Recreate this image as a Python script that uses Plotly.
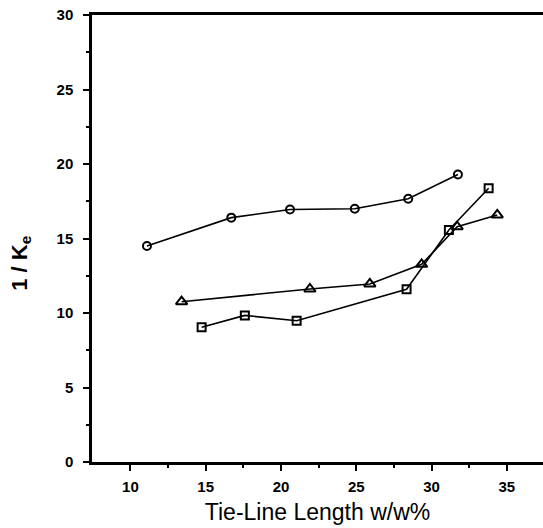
import plotly.graph_objects as go

circle_x = [11.1, 16.7, 20.6, 24.9, 28.45, 31.75]
circle_y = [14.5, 16.4, 16.95, 17.0, 17.67, 19.3]

square_x = [14.73, 17.6, 21.04, 28.34, 31.15, 33.79]
square_y = [9.04, 9.84, 9.48, 11.59, 15.57, 18.37]

triangle_x = [13.4, 21.92, 25.9, 29.34, 31.7, 34.36]
triangle_y = [10.76, 11.61, 11.95, 13.27, 15.79, 16.58]

x_ticks = [10, 15, 20, 25, 30, 35]
y_ticks = [0, 5, 10, 15, 20, 25, 30]

FAM = "Liberation Sans, Arial, sans-serif"

fig = go.Figure()
line = dict(color="black", width=1.6)
fig.add_trace(go.Scatter(x=circle_x, y=circle_y, mode="lines+markers", line=line,
                         marker=dict(symbol="circle-open", size=8, color="black", line=dict(width=2))))
fig.add_trace(go.Scatter(x=square_x, y=square_y, mode="lines+markers", line=line,
                         marker=dict(symbol="square-open", size=8, color="black", line=dict(width=2))))
fig.add_trace(go.Scatter(x=triangle_x, y=triangle_y, mode="lines+markers", line=line,
                         marker=dict(symbol="triangle-up-open", size=10, color="black", line=dict(width=2))))

tick_font = dict(family=FAM, size=15, color="black", weight="bold")
fig.update_layout(
    width=543, height=528,
    margin=dict(l=92, r=0, t=15, b=66),
    paper_bgcolor="white", plot_bgcolor="white",
    showlegend=False,
    font=dict(family=FAM, size=15, color="black"),
)
fig.update_xaxes(range=[7.45, 37.4], tickvals=x_ticks, ticks="outside", ticklen=6, tickwidth=2,
                 tickcolor="black", showline=True, linewidth=2.5, linecolor="black", mirror=True,
                 showgrid=False, zeroline=False, tickfont=tick_font, automargin=False,
                 ticklabelstandoff=3, ticklabeloverflow="allow",
                 minor=dict(tickvals=[12.5, 17.5, 22.5, 27.5, 32.5], ticks="outside", ticklen=3,
                            tickwidth=2, tickcolor="black"),
                 title=dict(text="Tie-Line Length w/w%",
                            font=dict(family=FAM, size=23, color="black", weight="normal"), standoff=11))
fig.update_yaxes(range=[0, 30], tickvals=y_ticks, ticks="outside", ticklen=6, tickwidth=2,
                 tickcolor="black", showline=True, linewidth=2.5, linecolor="black",
                 showgrid=False, zeroline=False, tickfont=tick_font, automargin=False,
                 ticklabelstandoff=7, ticklabeloverflow="allow",
                 minor=dict(tickvals=[2.5, 7.5, 12.5, 17.5, 22.5, 27.5], ticks="outside", ticklen=3,
                            tickwidth=2, tickcolor="black"))

fig.add_annotation(text="1&nbsp;/&nbsp;K<sub>e</sub>", textangle=-90,
                   xref="paper", yref="paper", x=-0.158, y=0.445,
                   xanchor="center", yanchor="middle", showarrow=False,
                   font=dict(family=FAM, size=22, color="black", weight="bold"))

fig.write_html("out.html", config={"displayModeBar": False},
               post_script="document.body.style.margin='0';")
